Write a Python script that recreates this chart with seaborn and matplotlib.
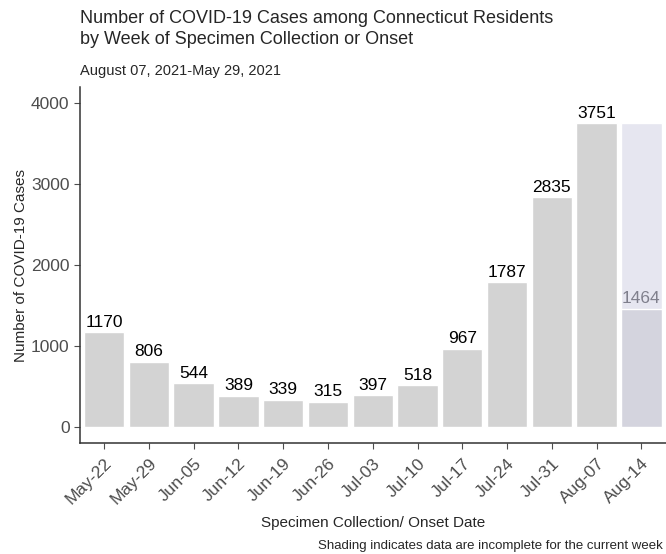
import pandas as pd
import matplotlib.pyplot as plt
import seaborn as sns

# Weekly case counts
weeks = ['May-22', 'May-29', 'Jun-05', 'Jun-12', 'Jun-19', 'Jun-26', 'Jul-03',
         'Jul-10', 'Jul-17', 'Jul-24', 'Jul-31', 'Aug-07', 'Aug-14']
cases = [1170, 806, 544, 389, 339, 315, 397, 518, 967, 1787, 2835, 3751, 1464]
# the last week is incomplete -> shaded up to the previous week's count
shade = [None] * 12 + [3751]

df = pd.DataFrame({'week': weeks, 'cases': cases, 'shade': shade})

sns.set_style('white')
plt.rcParams['font.family'] = ['Liberation Sans', 'DejaVu Sans']

fig = plt.figure(figsize=(6.66, 5.54), dpi=100)
ax = fig.add_axes([0.120, 0.200, 0.880, 0.643])

bar_colors = ['#D3D3D3'] * 12 + ['#D4D4DE']

sns.barplot(data=df, x='week', y='shade', color='#E6E6F0', width=0.9,
            saturation=1, ax=ax)
sns.barplot(data=df, x='week', y='cases', hue='week', palette=bar_colors,
            legend=False, width=0.9, saturation=1, ax=ax)

for i, v in enumerate(cases):
    ax.text(i, v + 30, str(v), ha='center', va='bottom', fontsize=12.5,
            color='#7F7F8C' if i == len(cases) - 1 else 'black')

ax.set_xlim(-0.54, 12.55)
ax.set_ylim(-198, 4198)
ax.set_yticks([0, 1000, 2000, 3000, 4000])
ax.tick_params(axis='both', colors='#4D4D4D', labelsize=12.5, length=4,
               width=0.8, direction='out', bottom=True, left=True)
ax.tick_params(axis='x', pad=5)
plt.setp(ax.get_xticklabels(), rotation=45, ha='right', rotation_mode='anchor')

for side in ['top', 'right']:
    ax.spines[side].set_visible(False)
for side in ['left', 'bottom']:
    ax.spines[side].set_color('#333333')
    ax.spines[side].set_linewidth(1.1)

ax.set_xlabel('Specimen Collection/ Onset Date', fontsize=11, labelpad=6)
ax.set_ylabel('Number of COVID-19 Cases', fontsize=11, labelpad=2)

fig.text(0.120, 0.982, 'Number of COVID-19 Cases among Connecticut Residents\n'
         'by Week of Specimen Collection or Onset', fontsize=13, va='top',
         linespacing=1.3)
fig.text(0.120, 0.885, 'August 07, 2021-May 29, 2021', fontsize=10.5, va='top')
fig.text(0.995, 0.004, 'Shading indicates data are incomplete for the current week',
         fontsize=9.5, ha='right', va='bottom')

fig.savefig('out.png', dpi=100)
